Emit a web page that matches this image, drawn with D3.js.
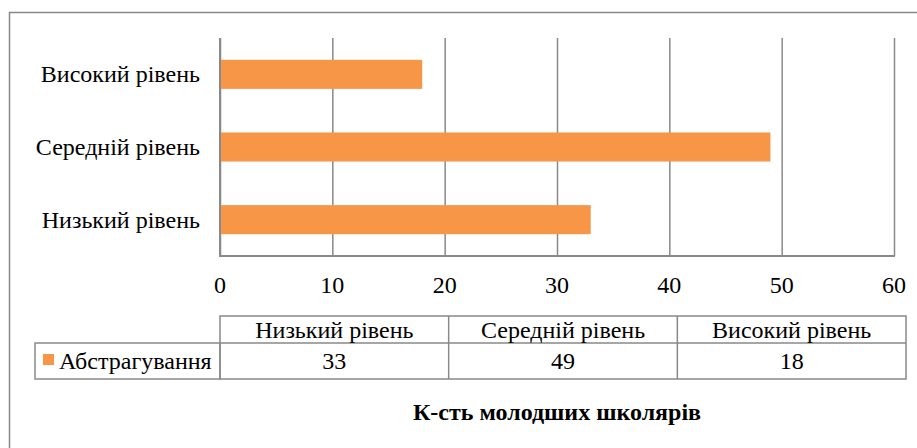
<!DOCTYPE html>
<html>
<head>
<meta charset="utf-8">
<script src="https://cdn.jsdelivr.net/npm/d3@7"></script>
<style>
  body { margin: 0; background: #fff; }
  svg text { font-family: 'Liberation Serif', 'Tinos', serif !important; }
</style>
</head>
<body>
<script>
'use strict';

// chart data
const categories = ["Низький рівень", "Середній рівень", "Високий рівень"];
const seriesName = "Абстрагування";
const values = [33, 49, 18];
const xTicks = [0, 10, 20, 30, 40, 50, 60];
const axisTitle = "К-сть молодших школярів";

const W = 917, H = 448;
const orange = "#F79646";
const grey = "#898989";
const font = "'Liberation Serif', 'Tinos', serif";

const svg = d3.select("body").append("svg")
  .attr("width", W)
  .attr("height", H);

// outer chart border (runs off right/bottom like the original)
svg.append("rect")
  .attr("x", 9.5).attr("y", 12.5)
  .attr("width", W).attr("height", H)
  .attr("fill", "none")
  .attr("stroke", grey)
  .attr("stroke-width", 1.5);

// scales
const x = d3.scaleLinear().domain([0, 60]).range([220, 894]);
const y = d3.scaleBand()
  .domain(categories.slice().reverse())
  .range([38, 256])
  .paddingInner(0.6)
  .paddingOuter(0.3);

// vertical gridlines
const grid = svg.append("g")
  .attr("transform", "translate(0,256)")
  .call(d3.axisBottom(x).tickValues(xTicks).tickSize(-(256 - 38)).tickFormat(""));
grid.select(".domain").remove();
grid.selectAll(".tick line").attr("stroke", grey).attr("stroke-width", 1.5);

// bars
svg.selectAll(".bar")
  .data(values)
  .enter()
  .append("rect")
  .attr("class", "bar")
  .attr("x", x(0))
  .attr("y", (d, i) => y(categories[i]))
  .attr("width", d => x(d) - x(0))
  .attr("height", y.bandwidth())
  .attr("fill", orange);

// axis lines (left + bottom)
svg.append("line")
  .attr("x1", x(0)).attr("x2", x(0))
  .attr("y1", 38).attr("y2", 256)
  .attr("stroke", grey).attr("stroke-width", 2);
svg.append("line")
  .attr("x1", x(0) - 1).attr("x2", x(60) + 1)
  .attr("y1", 256).attr("y2", 256)
  .attr("stroke", grey).attr("stroke-width", 2);

// category labels
svg.selectAll(".cat")
  .data(categories)
  .enter()
  .append("text")
  .attr("class", "cat")
  .attr("x", 200)
  .attr("y", d => y(d) + y.bandwidth() / 2 + 8)
  .attr("text-anchor", "end")
  .style("font-family", font)
  .style("font-size", "24px")
  .text(d => d);

// tick labels
svg.selectAll(".tickLabel")
  .data(xTicks)
  .enter()
  .append("text")
  .attr("class", "tickLabel")
  .attr("x", d => x(d))
  .attr("y", 293)
  .attr("text-anchor", "middle")
  .style("font-family", font)
  .style("font-size", "24px")
  .text(d => d);

// data table
const tx = d3.scaleBand().domain(categories).range([220, 906]);
const rowTop = 316, rowMid = 343, rowBot = 379, legLeft = 35;
const table = svg.append("g")
  .attr("fill", "none")
  .attr("stroke", grey)
  .attr("stroke-width", 1.5);

table.append("rect")
  .attr("x", 220).attr("y", rowTop)
  .attr("width", 906 - 220).attr("height", rowBot - rowTop);
table.append("rect")
  .attr("x", legLeft).attr("y", rowMid)
  .attr("width", 220 - legLeft).attr("height", rowBot - rowMid);
table.append("line")
  .attr("x1", 220).attr("x2", 906)
  .attr("y1", rowMid).attr("y2", rowMid);
table.selectAll(".colSep")
  .data(categories.slice(1))
  .enter()
  .append("line")
  .attr("x1", d => tx(d)).attr("x2", d => tx(d))
  .attr("y1", rowTop).attr("y2", rowBot);

svg.selectAll(".thead")
  .data(categories)
  .enter()
  .append("text")
  .attr("x", d => tx(d) + tx.bandwidth() / 2)
  .attr("y", (rowTop + rowMid) / 2 + 8)
  .attr("text-anchor", "middle")
  .style("font-family", font)
  .style("font-size", "24px")
  .text(d => d);

svg.selectAll(".tval")
  .data(values)
  .enter()
  .append("text")
  .attr("x", (d, i) => tx(categories[i]) + tx.bandwidth() / 2)
  .attr("y", (rowMid + rowBot) / 2 + 7.5)
  .attr("text-anchor", "middle")
  .style("font-family", font)
  .style("font-size", "24px")
  .text(d => d);

// legend key + series name
svg.append("rect")
  .attr("x", 43).attr("y", 354)
  .attr("width", 11).attr("height", 11)
  .attr("fill", orange);
svg.append("text")
  .attr("x", 59)
  .attr("y", (rowMid + rowBot) / 2 + 7.5)
  .style("font-family", font)
  .style("font-size", "24px")
  .text(seriesName);

// axis title
svg.append("text")
  .attr("x", 557)
  .attr("y", 420)
  .attr("text-anchor", "middle")
  .style("font-family", font)
  .style("font-size", "24px")
  .style("font-weight", "bold")
  .text(axisTitle);
</script>
</body>
</html>
